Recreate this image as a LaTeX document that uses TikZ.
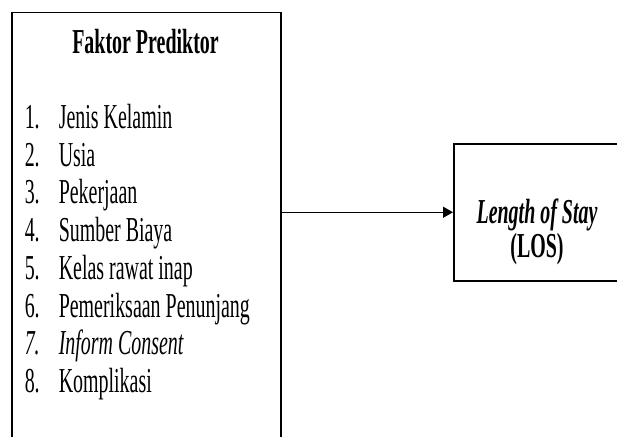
\documentclass[tikz,border=0pt]{standalone}
\usepackage{fontspec}
\setmainfont{Liberation Serif}[FakeStretch=0.57]
\usetikzlibrary{arrows.meta}

\begin{document}
\begin{tikzpicture}[x=1pt,y=-1pt,line width=1.5pt,
    box/.style={draw,rectangle,inner sep=0pt,anchor=north west},
    item/.style={anchor=base west,inner sep=0pt,font=\fontsize{35}{37.7}\selectfont},
    head/.style={anchor=base,inner sep=0pt,font=\fontsize{35}{37.7}\selectfont\bfseries}]
      \useasboundingbox (0,0) rectangle (617,436);
      \clip (0,0) rectangle (617,436);

      \node[box,minimum width=269pt,minimum height=450pt] (pred) at (11,12) {};
      \node[box,minimum width=168pt,minimum height=137pt] (los)  at (453,143) {};

      \node[head] (title) at (145.5,53) {Faktor Prediktor};

      \node[item] (n1) at (24,128) {1.};  \node[item] (t1) at (58,128) {Jenis Kelamin};
      \node[item] (n2) at (24,166) {2.};  \node[item] (t2) at (58,166) {Usia};
      \node[item] (n3) at (24,203) {3.};  \node[item] (t3) at (58,203) {Pekerjaan};
      \node[item] (n4) at (24,241) {4.};  \node[item] (t4) at (58,241) {Sumber Biaya};
      \node[item] (n5) at (24,279) {5.};  \node[item] (t5) at (58,279) {Kelas rawat inap};
      \node[item] (n6) at (24,317) {6.};  \node[item] (t6) at (58,317) {Pemeriksaan Penunjang};
      \node[item] (n7) at (24,354) {\itshape 7.};  \node[item] (t7) at (58,354) {\itshape Inform Consent};
      \node[item] (n8) at (24,392) {8.};  \node[item] (t8) at (58,392) {Komplikasi};

      \node[head] (len) at (537,223) {\itshape Length of Stay};
      \node[head] (abbr) at (537,257) {(LOS)};

      \draw[-{Triangle[length=10pt,width=11pt]}] (pred.east |- los.west) -- (los.west);
    \end{tikzpicture}
\end{document}
